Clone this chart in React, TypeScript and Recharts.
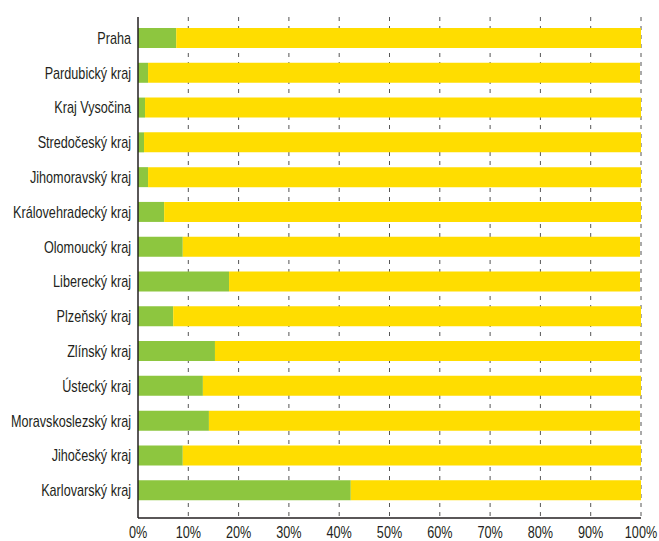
import React from "react";
import { BarChart, Bar, XAxis, YAxis, CartesianGrid } from "recharts";

const categories = [
  "Praha",
  "Pardubický kraj",
  "Kraj Vysočina",
  "Stredočeský kraj",
  "Jihomoravský kraj",
  "Královehradecký kraj",
  "Olomoucký kraj",
  "Liberecký kraj",
  "Plzeňský kraj",
  "Zlínský kraj",
  "Ústecký kraj",
  "Moravskoslezský kraj",
  "Jihočeský kraj",
  "Karlovarský kraj",
];
const greenValues = [7.6, 2.0, 1.4, 1.2, 2.0, 5.2, 8.9, 18.1, 7.0, 15.3, 12.9, 14.1, 8.9, 42.3];
const yellowValues = [92.4, 97.8, 98.6, 98.8, 98.0, 94.8, 90.9, 81.7, 93.0, 84.5, 87.1, 85.7, 91.1, 57.7];
const xTicks = [0, 10, 20, 30, 40, 50, 60, 70, 80, 90, 100];

const data = categories.map((name, i) => ({
  name,
  green: greenValues[i],
  yellow: yellowValues[i],
}));

const FONT = "'Liberation Sans', Arial, sans-serif";
const TEXT = "#231f20";
const SX = 0.79;

const YTick = (props: any) => {
  const { x, y, payload } = props;
  return (
    <text
      transform={`translate(${x},${y}) scale(${SX},1)`}
      x={0}
      y={0}
      dy={5.5}
      textAnchor="end"
      fill={TEXT}
      fontSize={16}
      fontFamily={FONT}
    >
      {payload.value}
    </text>
  );
};

const XTick = (props: any) => {
  const { x, y, payload } = props;
  return (
    <text
      transform={`translate(${x},${y}) scale(${SX},1)`}
      x={0}
      y={0}
      dy={13}
      textAnchor="middle"
      fill={TEXT}
      fontSize={16}
      fontFamily={FONT}
    >
      {`${payload.value}%`}
    </text>
  );
};

export default function App() {
  return (
    <div style={{ position: "absolute", left: 0, top: 0, width: 659, height: 541, background: "#fff" }}>
      <BarChart
        width={659}
        height={541}
        data={data}
        layout="vertical"
        margin={{ top: 17, right: 18, bottom: 0, left: 0 }}
      >
        <CartesianGrid
          horizontal={false}
          vertical={true}
          stroke="#555"
          strokeDasharray="4 5"
          verticalValues={[10, 20, 30, 40, 50, 60, 70, 80, 90, 100]}
        />
        <XAxis
          type="number"
          domain={[0, 100]}
          ticks={xTicks}
          height={23}
          axisLine={{ stroke: TEXT, strokeWidth: 1.5 }}
          tickLine={false}
          tickMargin={1}
          interval={0}
          tick={<XTick />}
        />
        <YAxis
          type="category"
          dataKey="name"
          width={138}
          axisLine={{ stroke: TEXT, strokeWidth: 1.5 }}
          tickLine={false}
          tickMargin={1}
          interval={0}
          padding={{ top: 4, bottom: 10 }}
          tick={<YTick />}
        />
        <Bar dataKey="green" stackId="a" fill="#8dc63f" barSize={20} isAnimationActive={false} />
        <Bar dataKey="yellow" stackId="a" fill="#ffdd00" barSize={20} isAnimationActive={false} />
      </BarChart>
    </div>
  );
}
